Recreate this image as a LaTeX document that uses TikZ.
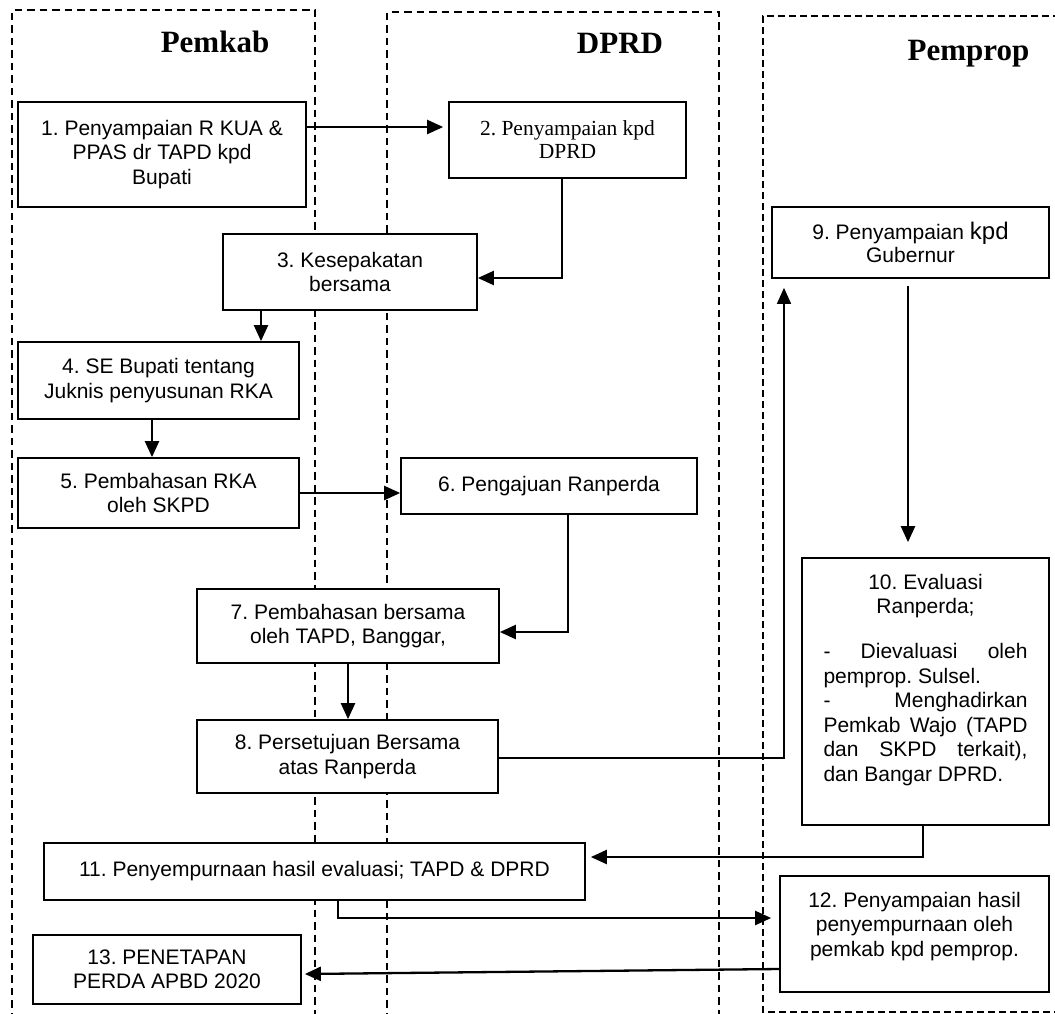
\documentclass[tikz,border=0pt]{standalone}
\usepackage{fontspec}
\setmainfont{Liberation Sans}
\newfontfamily\timesfont{Liberation Serif}
\usetikzlibrary{arrows.meta}
\frenchspacing

\newcommand\bodyfs{\fontsize{21}{24.5}\selectfont}

\begin{document}
\begin{tikzpicture}[x=1pt,y=-1pt,
  lane/.style={dash pattern=on 7.5pt off 5pt, line width=1.5pt},
  lanethin/.style={dash pattern=on 7pt off 4pt, line width=1.1pt},
  stepbox/.style={draw, fill=white, line width=1.7pt, inner sep=0pt, align=center, font=\bodyfs},
  head/.style={font=\timesfont\bfseries\fontsize{31}{36}\selectfont, anchor=base, inner sep=0pt},
  link/.style={line width=2.3pt, -{Triangle[length=16pt,width=14pt]}}
]
\fill[white] (0,0) rectangle (1055,1013);
\useasboundingbox (0,0) rectangle (1055,1013);

% swimlanes
\draw[lane] (12,1020) -- (12,10) -- (315,10) -- (315,1020);
\draw[lane] (387,1020) -- (387,12) -- (719,12) -- (719,1020);
\draw[lanethin] (1060,16) -- (763,16) -- (763,1012) -- (1060,1012);

\node[head] (hpemkab) at (215,52) {Pemkab};
\node[head] (hdprd) at (620,53) {DPRD};
\node[head] (hpemprop) at (968.5,60) {Pemprop};

% steps
\node[stepbox, minimum width=288pt, minimum height=105pt] (b1) at (162,154.5)
  {1. Penyampaian R KUA \&\\PPAS dr TAPD kpd\\Bupati};
\node[stepbox, font=\timesfont\fontsize{21.5}{23}\selectfont, minimum width=237pt, minimum height=76pt] (b2) at (567.5,140)
  {2. Penyampaian kpd\\DPRD};
\node[stepbox, minimum width=254pt, minimum height=76pt] (b3) at (350,272)
  {3. Kesepakatan\\bersama};
\node[stepbox, minimum width=281pt, minimum height=77pt] (b4) at (158.5,380.5)
  {4. SE Bupati tentang\\Juknis penyusunan RKA};
\node[stepbox, minimum width=281pt, minimum height=70pt] (b5) at (158.5,493)
  {5. Pembahasan RKA\\oleh SKPD};
\node[stepbox, minimum width=296pt, minimum height=56pt] (b6) at (549,486)
  {6. Pengajuan Ranperda};
\node[stepbox, minimum width=302pt, minimum height=74pt] (b7) at (348,626)
  {7. Pembahasan bersama\\oleh TAPD, Banggar,};
\node[stepbox, minimum width=301pt, minimum height=73pt] (b8) at (347.5,756.5)
  {8. Persetujuan Bersama\\atas Ranperda};
\node[stepbox, font=\fontsize{21}{23}\selectfont, minimum width=277pt, minimum height=71pt] (b9) at (910.5,242.5)
  {{\fontsize{21}{23}\selectfont 9. Penyampaian }{\fontsize{24}{23}\selectfont kpd}\\Gubernur};
\node[stepbox, minimum width=247pt, minimum height=267pt] (b10) at (925.5,691.5)
  {\parbox[c][235pt][t]{204pt}{\bodyfs\centering
    10. Evaluasi\\Ranperda;\par
    \vspace{20.5pt}
    \hbox to\linewidth{-\hfill Dievaluasi\hfill oleh}
    \hbox to\linewidth{pemprop. Sulsel.\hfill}
    \hbox to\linewidth{-\hfill Menghadirkan}
    \hbox to\linewidth{Pemkab\hfill Wajo\hfill (TAPD}
    \hbox to\linewidth{dan\hfill SKPD\hfill terkait),}
    \hbox to\linewidth{dan Bangar DPRD.\hfill}}};
\node[stepbox, minimum width=541pt, minimum height=57pt] (b11) at (314.5,871.5)
  {11. Penyempurnaan hasil evaluasi; TAPD \& DPRD};
\node[stepbox, minimum width=269pt, minimum height=116pt] (b12) at (914.5,934)
  {\parbox[c][84pt][t]{260pt}{\bodyfs\centering
    12. Penyampaian hasil\\penyempurnaan oleh\\pemkab kpd pemprop.}};
\node[stepbox, minimum width=268pt, minimum height=69pt] (b13) at (167,969.5)
  {13. PENETAPAN\\PERDA APBD 2020};

% flow
\draw[link] ([yshift=27.5pt]b1.east) -- ([xshift=-5pt,yshift=13pt]b2.west);
\draw[link] ([xshift=-5.5pt]b2.south) |- ([yshift=-6pt]b3.east);
\draw[link] ([xshift=-89pt]b3.south) -- ([xshift=-89pt]b3.south |- b4.north);
\draw[link] ([xshift=-6.5pt]b4.south) -- ([xshift=-6.5pt]b4.south |- b5.north);
\draw[link] (b5.east) -- (b5.east -| b6.west);
\draw[link] ([xshift=19pt]b6.south) |- ([yshift=-6pt]b7.east);
\draw[link] (b7.south) -- (b7.south |- b8.north);
\draw[link, line width=1.7pt] ([yshift=-1.5pt]b8.east) -| ([xshift=-126.5pt,yshift=-9pt]b9.south);
\draw[link] ([xshift=-2.5pt,yshift=-7pt]b9.south) -- ([xshift=-2.5pt,yshift=15pt]b9.south |- b10.north);
\draw[link] ([xshift=-2.5pt]b10.south) |- ([xshift=5pt,yshift=14.5pt]b11.east);
\draw[link] ([xshift=23.5pt]b11.south) |- ([xshift=-8pt,yshift=16pt]b12.west);
\draw[link] ([yshift=-35pt]b12.west) -- ([xshift=3pt,yshift=-4.5pt]b13.east);
\end{tikzpicture}
\end{document}
